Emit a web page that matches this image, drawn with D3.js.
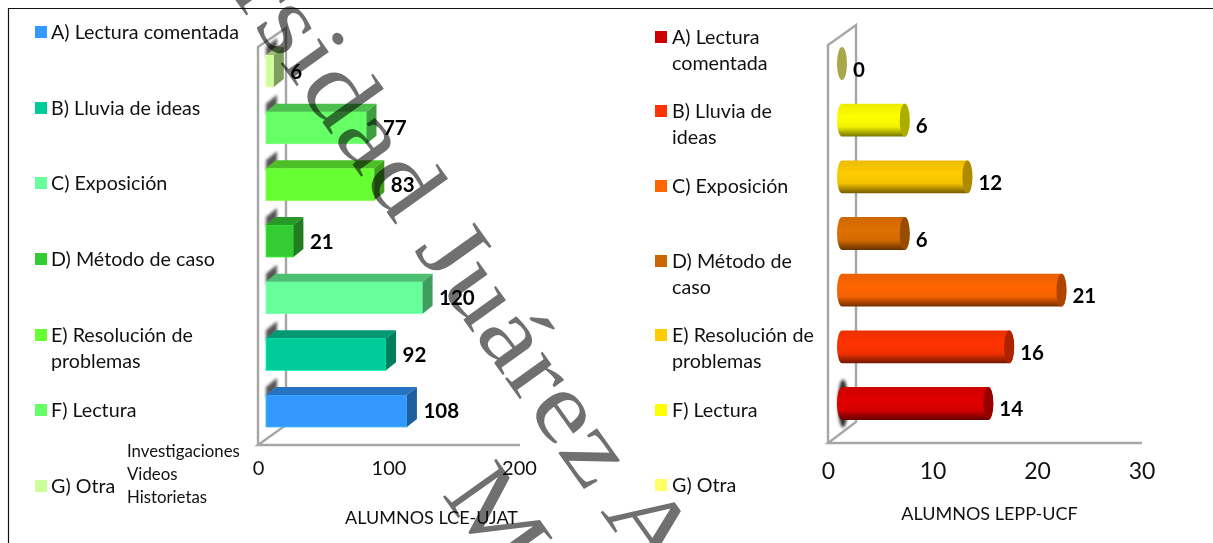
<!DOCTYPE html>
<html>
<head>
<meta charset="utf-8">
<script src="https://cdnjs.cloudflare.com/ajax/libs/d3/7.8.5/d3.min.js"></script>
<style>
body { margin: 0; background: #fff; }
text { font-family: Lato, "Open Sans", sans-serif; fill: #111; }
</style>
</head>
<body>
<svg id="chart" width="1213" height="543"></svg>
<script>
var categories = ["A", "B", "C", "D", "E", "F", "G"];

// values, bottom bar first
var valuesLce = [108, 92, 120, 21, 83, 77, 6];
var valuesLepp = [14, 16, 21, 6, 12, 6, 0];

var colorsLce = ["#3399ff", "#00cc99", "#66ff99", "#33cc33", "#66ff33", "#66ff66", "#ccff99"];
var colorsLepp = ["#e00000", "#ff3300", "#ff6600", "#e07000", "#ffcc00", "#ffff00", "#a8a848"];
var swatchLepp = ["#cc0000", "#ff3300", "#ff6600", "#cc6600", "#ffcc00", "#ffff00", "#ffff66"];

var ticksLce = [0, 100, 200];
var ticksLepp = [0, 10, 20, 30];

var legendLce = [["A) Lectura comentada"], ["B) Lluvia de ideas"], ["C) Exposición"], ["D) Método de caso"],
                 ["E) Resolución de", "problemas"], ["F) Lectura"], ["G) Otra"]];
var legendLepp = [["A) Lectura", "comentada"], ["B) Lluvia de", "ideas"], ["C) Exposición"], ["D) Método de", "caso"],
                  ["E) Resolución de", "problemas"], ["F) Lectura"], ["G) Otra"]];
var legendYLce = [32, 108, 183, 259, 335, 410, 486];
var legendYLepp = [37, 111, 186, 261, 335, 410, 485];
var otraNotes = ["Investigaciones", "Videos", "Historietas"];

var svg = d3.select("#chart");
var defs = svg.append("defs");

var blur = defs.append("filter").attr("id", "blur").attr("x", "-50%").attr("y", "-50%").attr("width", "200%").attr("height", "200%");
blur.append("feGaussianBlur").attr("stdDeviation", 1.4);

function shade(c, k) {
  var r = d3.rgb(c);
  return d3.rgb(r.r * k, r.g * k, r.b * k).formatHex();
}

// page frame
svg.append("path").attr("d", "M8.5,543V8.5H1213").attr("fill", "none").attr("stroke", "#111").attr("stroke-width", 1.2);

// ---- left chart, boxes
var xLce = d3.scaleLinear().domain([0, 200]).range([258, 519]);
var yLce = d3.scaleBand().domain(categories).range([439.3, 42.7]).paddingInner(0.435).paddingOuter(0.2175);
var left = svg.append("g");

var wallLine = "#a6a6a6";
left.append("path").attr("d", "M258,445V47L286,28V425L258,445H520M286,28")
  .attr("fill", "none").attr("stroke", wallLine).attr("stroke-width", 2.4);

var dx = 10, dy = 8;
var rows = left.selectAll("g.row").data(categories).enter().append("g").attr("class", "row");

rows.append("path")
  .attr("d", function(d) {
    var t = yLce(d);
    return "M266," + (t + 3) + "L277," + (t - 7) + "V" + (t - 17) + "L266," + (t - 8) + "Z";
  })
  .attr("fill", "#555").attr("filter", "url(#blur)");

rows.append("rect")
  .attr("x", xLce(0) + 8)
  .attr("y", function(d) { return yLce(d); })
  .attr("width", function(d, i) { return xLce(valuesLce[i]) - xLce(0); })
  .attr("height", yLce.bandwidth())
  .attr("fill", function(d, i) { return colorsLce[i]; })
  .attr("stroke", function(d, i) { return d3.rgb(colorsLce[i]).brighter(0.5); })
  .attr("stroke-width", 0.8);

rows.append("path")
  .attr("d", function(d, i) {
    var x0 = xLce(0) + 8, x1 = xLce(valuesLce[i]) + 8, t = yLce(d);
    return "M" + x0 + "," + t + "L" + (x0 + dx) + "," + (t - dy) + "H" + (x1 + dx) + "L" + x1 + "," + t + "Z";
  })
  .attr("fill", function(d, i) { return shade(colorsLce[i], 0.75); });

rows.append("path")
  .attr("d", function(d, i) {
    var x1 = xLce(valuesLce[i]) + 8, t = yLce(d), h = yLce.bandwidth();
    return "M" + x1 + "," + t + "L" + (x1 + dx) + "," + (t - dy) + "V" + (t + h - dy) + "L" + x1 + "," + (t + h) + "Z";
  })
  .attr("fill", function(d, i) { return shade(colorsLce[i], 0.62); });

rows.append("text")
  .attr("x", function(d, i) { return xLce(valuesLce[i]) + 8 + dx + 6.5; })
  .attr("y", function(d) { return yLce(d) + yLce.bandwidth() / 2 + 7.5; })
  .attr("font-size", 20.5).attr("font-weight", 700).style("fill", "#000")
  .text(function(d, i) { return valuesLce[i]; });

var axisLce = d3.axisBottom(xLce).tickValues(ticksLce).tickSize(0).tickPadding(0);
left.append("g").attr("transform", "translate(0,461)").call(axisLce)
  .call(function(g) { g.select(".domain").remove(); })
  .selectAll("text").attr("font-size", 20).attr("font-family", "Lato").style("fill", "#111");

left.append("text").attr("x", 431.5).attr("y", 524).attr("text-anchor", "middle")
  .attr("font-size", 18).text("ALUMNOS  LCE-UJAT");

// ---- right chart, cylinders
var xLepp = d3.scaleLinear().domain([0, 30]).range([828, 1141.5]);
var yLepp = d3.scaleBand().domain(categories).range([431.8, 35.2]).paddingInner(0.42).paddingOuter(0.21);
var right = svg.append("g");

right.append("path").attr("d", "M828,443V45L856,25V422L828,443H1142")
  .attr("fill", "none").attr("stroke", wallLine).attr("stroke-width", 2.4);

right.append("ellipse").attr("cx", 843).attr("cy", yLepp("A") + yLepp.bandwidth() / 2)
  .attr("rx", 5).attr("ry", 24).attr("fill", "#333").attr("filter", "url(#blur)");

colorsLepp.forEach(function(c, i) {
  var g = defs.append("linearGradient").attr("id", "cyl" + i).attr("x1", 0).attr("x2", 0).attr("y1", 0).attr("y2", 1);
  g.append("stop").attr("offset", "0%").attr("stop-color", shade(c, 0.92));
  g.append("stop").attr("offset", "40%").attr("stop-color", c);
  g.append("stop").attr("offset", "70%").attr("stop-color", shade(c, 0.95));
  g.append("stop").attr("offset", "100%").attr("stop-color", shade(c, 0.45));
});

var rowsR = right.selectAll("g.row").data(categories).enter().append("g").attr("class", "row");
var rx = 5, offset = 14;

rowsR.filter(function(d, i) { return valuesLepp[i] > 0; }).append("path")
  .attr("d", function(d) {
    var i = categories.indexOf(d);
    var x0 = xLepp(0) + offset, x1 = xLepp(valuesLepp[i]) + offset, t = yLepp(d), ry = yLepp.bandwidth() / 2;
    return "M" + x0 + "," + t + "H" + x1 + "A" + rx + "," + ry + " 0 0 1 " + x1 + "," + (t + 2 * ry) +
      "H" + x0 + "A" + rx + "," + ry + " 0 0 1 " + x0 + "," + t + "Z";
  })
  .attr("fill", function(d) { return "url(#cyl" + categories.indexOf(d) + ")"; });

rowsR.append("ellipse")
  .attr("cx", function(d, i) { return xLepp(valuesLepp[i]) + offset; })
  .attr("cy", function(d) { return yLepp(d) + yLepp.bandwidth() / 2; })
  .attr("rx", rx)
  .attr("ry", yLepp.bandwidth() / 2)
  .attr("fill", function(d, i) { return valuesLepp[i] > 0 ? shade(colorsLepp[i], 0.68) : colorsLepp[i]; });

rowsR.append("text")
  .attr("x", function(d, i) { return xLepp(valuesLepp[i]) + offset + rx + 6; })
  .attr("y", function(d) { return yLepp(d) + yLepp.bandwidth() / 2 + 13; })
  .attr("font-size", 20.5).attr("font-weight", 700).style("fill", "#000")
  .text(function(d, i) { return valuesLepp[i]; });

var axisLepp = d3.axisBottom(xLepp).tickValues(ticksLepp).tickSize(0).tickPadding(0);
right.append("g").attr("transform", "translate(0,463)").call(axisLepp)
  .call(function(g) { g.select(".domain").remove(); })
  .selectAll("text").attr("font-size", 23).attr("font-family", "Lato").style("fill", "#111");

right.append("text").attr("x", 989.5).attr("y", 520).attr("text-anchor", "middle")
  .attr("font-size", 18).text("ALUMNOS  LEPP-UCF");

// ---- legends
function drawLegend(labels, ys, colors, sx, tx) {
  var items = svg.append("g").selectAll("g").data(labels).enter().append("g");
  items.append("rect")
    .attr("x", sx).attr("y", function(d, i) { return ys[i] - 6; })
    .attr("width", 12).attr("height", 12)
    .attr("fill", function(d, i) { return colors[i]; });
  items.each(function(lines, i) {
    d3.select(this).selectAll("text").data(lines).enter().append("text")
      .attr("x", tx)
      .attr("y", function(d, j) { return ys[i] + 6.8 + j * 26; })
      .attr("font-size", 19.7)
      .text(function(d) { return d; });
  });
}
drawLegend(legendLce, legendYLce, colorsLce, 35, 51);
drawLegend(legendLepp, legendYLepp, swatchLepp, 655, 672);

svg.append("g").selectAll("text").data(otraNotes).enter().append("text")
  .attr("x", 127).attr("y", function(d, i) { return 457 + i * 23; })
  .attr("font-size", 16.8).text(function(d) { return d; });

// ---- watermark on top of everything, stretched along the baseline
var mark = svg.append("g").style("mix-blend-mode", "multiply");
mark.append("text")
  .attr("transform", "translate(649,580) rotate(54.5) scale(1.17,1)")
  .attr("text-anchor", "end")
  .attr("font-size", 100)
  .style("font-family", "'Liberation Serif', serif")
  .style("fill", "#707070")
  .text("Universidad Juárez A");
mark.append("text")
  .attr("transform", "translate(441,494) rotate(54.5) scale(1.17,1)")
  .attr("font-size", 100)
  .style("font-family", "'Liberation Serif', serif")
  .style("fill", "#707070")
  .text("M");
</script>
</body>
</html>
